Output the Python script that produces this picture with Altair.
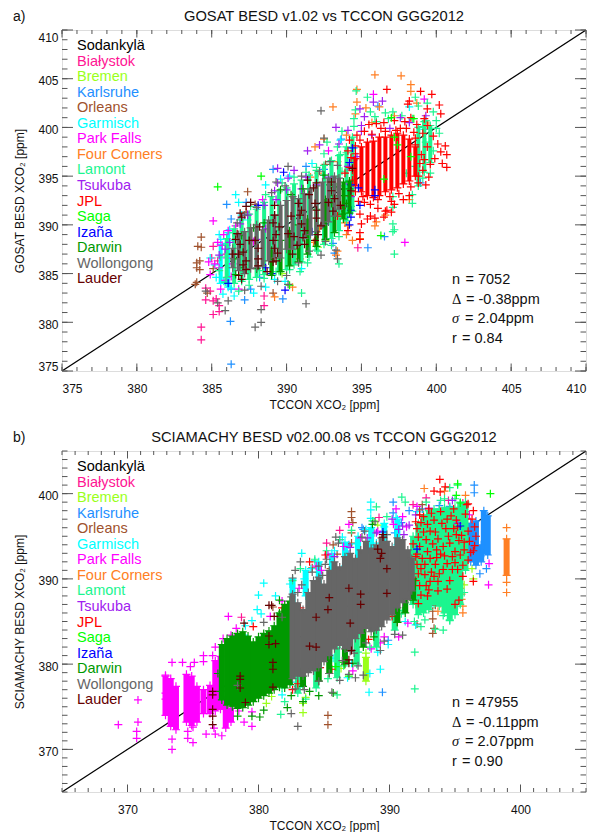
import altair as alt
import pandas as pd

FONT = "Liberation Sans"
SITES = ["Sodankylä","Białystok","Bremen","Karlsruhe","Orleans","Garmisch","Park Falls","Four Corners",
         "Lamont","Tsukuba","JPL","Saga","Izaña","Darwin","Wollongong","Lauder"]
COLORS = ["#000000","#FF1493","#9AFF1A","#1E90FF","#A0522D","#00FFFF","#FF00FF","#FF7F24",
          "#1CF58F","#A020F0","#FF0000","#00FF00","#0000FF","#009900","#666666","#660000"]

# ---------- panel a: crosses (TCCON, satellite) ----------
A_BIAL = [(384.3,378.2),(384.3,379.5),(385.1,380.8),(385.5,381.1),(385.5,381.7),(384.6,383.5),(384.6,382.3),(385.1,382.2),(385,386.6),(385.1,387.8),(388.5,382.7),(388.5,381.7),(394.76,387.65),(384.9,383.2),(385.3,382.4),(385.9,387),(385.4,386.3)]
A_BREM = [(392.1,387.7),(389.7,385),(392.6,388.4)]
A_KARL = [(386.3,375.7),(386.25,380.1),(386,392.1),(387.3,392.3),(386.3,390.6),(389.1,395.7),(389.75,382.4),(395.43,387.65),(396.54,388.8),(398.95,394.3),(393.65,398.8),(387.6,383.4),(387.2,382.3),(393.2,387.1),(386.3,383.4),(392.5,395.7),(391.3,396),(388.2,384.6),(393.1,388.1),(396.1,402.2)]
A_ORLE = [(384.3,388.75),(384.07,387.8),(384.3,387.7),(384.2,386.3),(384,386.1),(384,385.6),(384.2,385.4),(384,384.1),(383.9,383.9),(387.4,393.4),(384.7,383),(389.1,383),(387.9,392.1),(387.3,391.3),(385.1,385.5),(392.6,396.2)]
A_GARM = [(386.6,393.1),(386.8,392.3),(385.5,389),(386.2,389.5),(385.75,382.9),(386.3,383.5),(385.2,385.9),(385.6,388.5),(386.5,388.4),(387.8,383),(388.6,383.6),(389.2,384.4),(389.6,394.7),(387,391),(387.4,390.5),(385.8,384.2),(386.5,382.7),(393.6,398.7),(394.5,397.9),(391.7,396.3),(390.2,395),(388.6,394.1),(386,388.1),(384.9,386.6),(385.3,384.6),(389.9,384.2),(391,385.5),(398.2,402.1),(399.2,399.8)]
A_GARM_CORE = [(385.6,384,388),(386.1,383.6,389.2)]
A_PARK = [(385.1,390.4),(384.8,386.2),(385.2,386),(385.5,385.6),(385.4,388.2),(385.8,389),(385.7,387.9),(386,386.6),(386.3,384.7),(385.9,384.3),(385.6,383.4),(384.9,384.9),(386.1,389.4),(386.6,389.9),(387,390.7),(387.4,391.1),(397.9,388.2),(387.8,388.3),(388.4,392.6),(395.8,403.4),(399.2,402.9),(392.8,397.6),(386.4,386),(386.8,383.4)]
A_FOUR = [(395.9,405.4),(397.65,405.3),(394.7,403.9),(398.3,404.4),(398.3,403.7),(393.1,402.1),(394.7,402.6),(395.3,402),(396.2,402.1),(394.6,401.4),(397.2,401.2),(392.5,398.8),(391.9,398),(394,399.2),(395.7,400.5),(393.4,396.5),(392.1,395.3),(391.6,394.9),(394.1,389.9),(394,389),(394.9,388.6),(394.4,388.4),(393.4,387.3),(393.3,386.9),(393.9,390.2),(396,390.3),(395.9,389.9),(396.6,391),(398.2,392.6),(389.2,382.6),(390.4,383.6),(392.2,389.6),(391.8,388.2),(390.9,386.5),(399.5,400.2),(398.7,402.5)]
A_LAMO = [(394.65,403.75),(395.4,403.1),(398.6,403.1),(399.4,402.5),(398.8,402.2),(394.6,401.8),(395.6,401.6),(396.6,401.5),(397.1,401.6),(394.5,400.9),(395.9,401.1),(399.8,401.6),(400,400.7),(399.1,400.1),(392.7,398.5),(393.4,398),(393.6,397.2),(392.5,397.3),(394,397.4),(392.9,396.5),(392,395.9),(391.3,395.4),(390.5,394.9),(389.7,394.3),(388.6,393.1),(387.6,391.9),(386.9,390.5),(386.4,389.2),(386,387.9),(385.6,386.7),(385.5,385.3),(385.9,384.1),(386.8,383.2),(387.5,383.8),(388.5,384.5),(389.3,385.2),(390.2,385.4),(391.4,386.1),(392.1,387.3),(393,387.9),(393.5,388.8),(392.9,390.4),(393.6,391.1),(394.3,391.9),(397.1,392.9),(398.4,393.1),(398.4,392.2),(397.1,391.8),(397.1,390.1),(397.2,389.5),(397.1,389.3),(397.2,387),(393.5,386),(391,383),(390.9,385.2),(388.2,385.3),(400.2,399.4),(399.3,398.5),(399.8,397.6),(399.6,395.3),(400,399.9),(398.6,396),(399.1,394.8),(398,395.3),(393.9,394),(393.7,395.5),(394.5,400.1),(393.7,399.6),(396,400.6),(396.8,400.9),(397.7,401.2),(398.4,400.9),(399.3,400.7)]
A_LAMO_CORE = [(386,384.6,388.6),(386.5,384,389.6),(387,384.2,390.6),(387.5,384.4,391.1),(388,384.6,391.6),(388.5,384.9,392.3),(389,385,392.9),(389.5,385.2,393.4),(390,385.4,393.8),(390.5,385.9,394.2),(391,386.2,394.6),(391.5,386.7,395.1),(392,387.4,395.6),(392.5,388,396.1),(393,388.6,396.6),(393.5,389.4,397.1),(394,390.4,398),(394.4,391.4,399),(398.8,394,400),(399.2,395.4,400.6),(399.6,396.4,400.2)]
A_TSUK = [(395.8,402.6),(396.4,402.7),(394.9,401.9),(395.2,401.1),(395,400.2),(394.1,399.7),(395,399.6),(393.3,400),(391.4,397.6),(392.2,398.2),(397.6,401),(396.9,399.9),(395.7,399.2),(393.5,398.3),(394.7,397),(394.1,396),(389.4,395.8),(390.5,395.6),(390.1,394.8),(389.4,394.3),(389.2,393.5),(390,393.6),(389.3,392.6),(388.5,392),(387.4,391),(386.9,390.1),(386.2,388.2),(385.9,387.5),(385.5,386.9),(391,393.7),(392,394.1),(392.8,394.9),(394.2,394.2),(394.3,392.9),(393.9,391.9),(388.6,389.6),(388,388.5),(399.3,401.2),(398.2,400.5),(391.3,394.9)]
A_JPL = [(396.7,403.9),(398.95,403.7),(399.7,403.4),(398.2,402.7),(398.1,402.4),(400.2,402.3),(399.4,401.9),(400.3,401.4),(399.2,400.9),(398.3,401),(397.9,400.6),(397.2,400.7),(396.5,400.5),(396,400.4),(395.5,400.3),(398.7,400.3),(399.4,400.2),(398,399.9),(397.3,399.7),(396.3,399.9),(395.2,399.6),(394.7,399.2),(394.2,398.7),(399.1,399.4),(399.8,399.1),(398.6,398.9),(400.1,398.3),(400.6,398.1),(399.4,398),(394.6,398.1),(394.1,397.6),(394.3,396.9),(400.3,397.5),(400.7,397.2),(399.9,396.8),(399.2,396.7),(399.6,396.2),(400.4,396.3),(400.7,395.9),(399.1,395.6),(398.8,395),(399.5,394.9),(394.2,395.9),(393.9,395.3),(394.4,394.6),(398.8,394.3),(399.3,394.1),(398.3,393.9),(398.2,393),(397.8,392.6),(394.6,393.4),(394.2,393),(395.1,392.9),(395.6,392.1),(396.1,391.7),(396.7,391.5),(397.2,392.1),(397,391.3),(396.5,390.8),(395.6,390.9),(394.9,391.1),(394.1,389.4),(394.9,389.2),(394.9,388.5),(395,390.1),(395.4,390.6),(395.9,390.7),(396.6,391.4),(397,392.4),(393.4,390.9),(393.7,391.7),(395.2,392.3),(396.1,392.6),(396.9,392.9),(397.5,393.2),(394.8,392.4),(395.7,399.3),(396.6,399.6),(397.6,399.9),(398.5,399.5),(394.9,398.7),(398.6,398.2),(399,397.2),(398.9,396.3),(394.4,395.6),(394.6,397.3)]
A_JPL_CORE = [(394.6,394,396.8),(395,393.4,398),(395.4,393,398.5),(395.8,392.8,398.6),(396.2,393,399),(396.6,393.4,399),(397,393.6,399.2),(397.4,393.8,399.4),(397.8,394.2,399.2),(398.2,394.5,398.8),(398.6,395,398)]
A_SAGA = [(398.3,397),(388.3,395),(385.4,393.9),(390.2,383.8),(397.2,399),(397.4,398.2),(396.5,394.7),(396.3,388.9),(398.5,400.9),(397,401)]
A_IZAN = [(388.1,392),(389.8,395.4),(394.4,397.9),(394.2,396.4),(394.3,394.1),(394.8,393.8),(395.9,393.6),(395.9,393),(394.9,392),(394.3,391.5),(394.3,390.8),(394.2,390),(389.9,383.3),(386.1,384),(388.6,385.6),(392.5,390.1),(391.7,389.3),(389,385)]
A_DARW = [(393.8,393),(394,392.2),(393.7,391.1),(393,392.2),(389.6,393.6),(390.3,393.1),(391.1,393.7),(392.5,395.1),(392.9,394.1),(388,385.5),(387.1,385.6),(386.6,384.9),(386.5,386.5),(387,388.9),(387.8,389.7),(388.5,390.2),(393.3,393.9),(394.2,393.7)]
A_DARW_CORE = [(389,384.8,387.4),(389.6,385.2,388.4),(390.2,385.8,389.4),(390.8,386.2,390),(391.4,387,390.6),(392,387.8,391.6),(392.6,388.5,392.6),(393.2,389.2,393),(393.8,390.6,394.4),(394.2,391.2,394.5)]
A_WOLL = [(392.3,401.7),(388.3,380),(387.9,379.5),(384.6,383.2),(391.3,381.9),(388.3,381.3),(387.2,383.3),(388.3,383.7),(390.1,383.9),(390,384.8),(389.4,384.2),(390.1,396),(392.5,398.9),(393.4,396.1),(392.9,396.5),(392.3,386.9),(393.4,386.5),(393.3,387.4),(386.1,382.2),(385.9,381.2),(385.4,382),(389.3,394.4),(386.7,390.2),(388,391.8),(387.2,391),(389,393.3),(389.9,394),(391,395),(392.2,395.5),(392.6,388.3),(391.5,387.3),(390.8,386.1)]
A_WOLL_CORE = [(386.4,385.6,387.6),(386.8,385.3,389),(387.2,385,389.3),(387.6,385.5,389.7),(388,385.6,390),(388.4,385.8,389.5),(388.8,386.3,390.5),(389.2,386.6,391),(389.6,386.6,392),(390,387.5,392.5),(390.4,387.5,392.9),(390.8,388,392.7),(391.2,388.6,393.2),(391.6,389,393.7),(392,389.3,394),(392.4,390,394.4),(392.8,390.3,394.8),(393.2,390.9,395),(393.5,391.6,394.8)]
A_LAUD = [(387,390.8),(387.3,391.9),(386.9,391.2),(386.7,389.1),(386.6,388.5),(386.9,388),(387.1,387.2),(386.8,387),(387.3,386.3),(387.5,388.4),(387.9,388.4),(388.1,387.6),(387.1,385.9),(386.8,384.8),(387,384.4),(387.3,385.4),(388.1,386.5),(388.1,385.8),(389.2,391),(389.1,390.2),(389.5,389.8),(389.3,389),(389.1,388.4),(389.2,387.6),(389.4,387.1),(389.1,386.2),(389.3,386.3),(390.1,389.1),(390.5,388.8),(390.7,387.9),(390.4,387),(391,391.5),(390.8,392.2),(390.9,391),(391,390.1),(391.2,389.4),(391.1,388.7),(391.2,388),(391.8,393.8),(391.4,394.6),(392,394.3),(391.5,393.1),(391.9,392.2),(392,391.5),(392,390.7),(392.3,389.9),(392.1,389),(391.9,388.4),(393,394.4),(393,393.5),(393.2,392.7),(392.8,392.3),(393.1,391.4),(393.6,392),(394.4,395.8),(394.3,393.5),(389.2,392),(387.6,392.3),(386.4,387),(388.7,385.2),(390.3,390.9),(388.2,389.8)]

# ---------- panel b: crosses ----------
B_BIAL = [(389.2,397.2),(392.8,399.5),(391.8,398.7),(395.8,397.9),(396.2,396.5),(395.6,398.9),(395.9,397.1),(394.5,399.2),(395.3,398.2),(386.2,395.7),(385.2,394.2),(378.7,385.5)]
B_BREM = [(388.2,381.3),(383.4,374.3),(383.6,376.1),(383.4,375.4),(386.3,379.5),(384.5,379.9),(389.1,396.3),(396.3,391.2),(396.4,390),(395.7,389.3),(380.6,375.4),(381,376.2),(388.8,396.8)]
B_BREM_CORE = [(388.2,378,380.8)]
B_KARL = [(396.47,401),(396.47,400.1),(390.28,399),(390.28,397.75),(396.9,390.6),(389.46,376.7),(388,395.8),(386.9,392.9),(390.4,395.4),(393.8,398.6),(394.6,398.5),(395.3,397.9),(389.9,382.8),(388.9,384),(386.9,394),(387.9,396),(390.9,396.6),(391.5,398),(392.5,398.2),(395.2,388.7),(397.4,391.2)]
B_KARL_CORE = [(396.2,392,396.5),(396.6,391.6,396.8),(397,392,394),(397.2,393,398),(397.5,392.8,397.4)]
B_ORLE = [(387.1,397.9),(387.1,397.2),(387.1,395.4),(387.1,394.2),(392.5,398.7),(392.3,398.1),(385.3,374),(385.3,372.9),(387.2,396.6),(393.3,386.2),(393.3,385.3),(393.4,384.2),(393.3,383.6),(392.1,384.7),(385.5,391.2),(388.8,395.4),(393.5,386.9),(381.1,386.7),(384.1,391.3),(385.7,394),(386,392.9)]
B_GARM = [(388.57,399),(388.57,398.1),(388.57,397.1),(380.4,389.5),(380,388.1),(388.44,376.7),(389.3,379.4),(379.9,386.4),(381.3,388),(382.4,389.4),(383.5,390),(384,391.2),(384.3,392.1),(383.3,393),(385.8,393.3),(386.4,394.9),(387.4,394.1),(388.2,395.8),(389.6,396.1),(390.5,397.2),(392.1,397.9),(389,394.2),(379,384.5),(378.9,383.4),(379.5,385.1),(380.2,385.9),(384.5,379.4),(386.8,378.4),(388.5,378.9),(389.1,381.4),(389.9,382.3),(391.2,385),(392,384.6),(393,386.8),(393.6,388.8),(387.1,380.1),(385.7,380.7),(383.3,377.7),(381.8,376.4),(382.5,377.9)]
B_GARM_CORE = [(382.6,387,390),(383.6,388,391),(384.6,389,392),(385.6,390,393),(386.6,391.5,394.3),(387.6,392,395),(388.6,393,396),(389.6,393.5,396.5),(390.6,394,397)]
B_PARK = [(369.3,372.9),(370.8,373.2),(370.7,372.1),(370.7,371.3),(370.8,375.8),(373.4,370),(374.6,371.3),(375,370.8),(376.7,371.8),(379.5,372.7),(372.9,378.7),(373.4,380.2),(374.2,380.2),(375.8,381),(375.8,380.3),(375.1,380.2),(374.8,379.7),(372.9,376.6),(372.9,375.9),(373.4,371.2),(374.6,372.1),(375,372.6),(376,371.8),(376.6,372.5),(377.2,371.6),(377.7,385.6),(378.3,384.2),(377.9,383.4),(377.3,383),(376.7,382),(376.5,381),(378.2,375.6),(378.5,374.5),(378.9,373.2),(379.5,374.4),(397.6,391.8),(397.56,389.3),(386.9,396.4),(395.7,396.2),(392.9,397.4),(390.6,393.4),(389.6,383.2),(389.3,382.5),(385.3,392.9),(384.4,391.5),(386.2,394.6),(386.5,393.8),(390.5,398.2),(391,397.3),(392.1,398.5),(396.1,397.5),(381.8,387.4),(380.9,385.6),(383.1,388.9),(384.8,391),(387.8,394.8),(389.1,395.6),(390.3,396.4),(391.3,396.1),(391.4,384.8),(390.7,383.2),(388.6,381.8),(387.2,379.2)]
B_PARK_CORE = [(372.9,374,378.6),(373.3,372.7,378.3),(373.7,372.3,377.4),(374.5,373.2,378.8),(374.9,372.8,378.6),(375.3,373.2,377.4),(375.8,374.2,377),(376.3,374.2,377.5),(376.7,374.5,380.4),(377.1,374.7,380.9),(377.5,372.5,376.2),(377.9,373.2,374.8)]
B_FOUR = [(392.65,400.6),(398.94,396),(398.94,388.4),(398.94,389.6),(395.6,386),(395.6,386.8),(395.5,387.6),(395.5,388.2),(395.4,388.9),(395.4,389.4),(393.6,387.7),(393.7,386.2),(393.9,387.1),(392,387),(391.6,387.7),(394.2,400.3),(395.8,399.8)]
B_FOUR_CORE = [(398.94,390.4,394.7)]
B_LAMO = [(389,398.45),(390.94,399.6),(391.93,381.4),(391.93,377.1),(395.2,401),(394.6,400.7),(394.2,399.4),(381.7,374.1),(388.9,384.8),(390.1,385.8),(391,386.3),(391.9,385),(392.4,384.4),(393.5,384.1),(394.1,385.7),(394.5,386.3),(394.6,385.1),(394.1,384),(391.2,387.2),(390.9,385.9),(392.7,385.2),(395.2,386.8),(395.7,388.4),(391.2,399),(392.8,399),(393.9,399.2),(395,399.4),(389.8,397.3),(388.7,396.8),(387.1,395.7),(386.2,394.6),(385.2,393.3),(384.3,392.3),(383.2,391.2),(382.6,389.8),(379.8,380),(380.6,380.8),(382,375.6),(381.8,377.2),(383,377.4),(383.6,375.9),(385.3,378.3),(386.5,379.8),(387.6,381.4),(388.5,382),(386,376.4)]
B_LAMO_CORE = [(383,376.6,379),(384.4,377.2,380),(386,378.4,382),(387.5,380,383.5),(389,382,385),(390.4,384,386.5),(391.8,387,395),(392.2,385.8,396.5),(392.6,386,397.5),(393,386.4,398),(393.4,387,398.2),(393.8,386.8,398.2),(394.2,386,398.4),(394.6,385.2,398.4),(395,385.8,398.4),(395.4,387,399),(395.8,391,399)]
B_TSUK = [(390.2,397),(391,396.2),(391.1,395.2),(391.5,396.3),(390.7,395.8),(392,397.5),(388.3,394.8),(389,395.4),(394.8,399.2),(393,398.3),(395.2,396.5),(387,393.7),(385.8,392.6)]
B_JPL = [(393.84,401.66),(393.4,400.3),(393.87,400.2),(394.25,400.8),(396.4,389.7),(392.3,397.5),(392.4,396.6),(392.1,395.9),(392.9,396.4),(393.1,395.6),(392.2,394.9),(392.8,394.6),(392.3,393.8),(392.1,392.9),(392.9,393.2),(392.5,392.4),(392.4,391.2),(392.7,390.5),(393.2,390.8),(393.1,389.7),(393,388.7),(392.4,388.1),(392.3,389.2),(393.5,391.7),(393.9,392.9),(394.4,391.8),(394.1,393.8),(394.6,394.2),(393.7,394.7),(394.3,395.9),(393.4,396.9),(394.7,397.4),(395.1,396.9),(394.9,395.9),(394.8,392.6),(395,393.2),(395.4,392.8),(395.3,394.5),(395.5,395.1),(396,395.6),(396.5,396.1),(396.6,395),(396.5,393.9),(396.4,393.3),(395.8,397.6),(395.9,398.7),(396.4,398),(396,398.8),(395.2,391.1),(395.6,390.3),(394.6,389.8),(394.4,388.8),(393.7,389.7),(395.3,387.5),(395,387),(392.2,387.1),(392,392.6),(391.8,394.1),(393,398.2),(383,377.7),(384.7,379.6),(385.6,379.4),(382.6,377),(387.8,385.4),(388.4,382.9),(389.4,385.3),(390.2,385.6),(390.6,384.9),(389,386.1),(379.6,384.4),(381.8,386.6),(383.2,386.6),(383.9,392),(385.1,392.8),(393.6,393.4),(392.6,395.5),(393.3,394.1),(392.2,390.6),(393.8,390.6),(395.7,393.4),(396.1,394.4),(395.2,396.1),(392,396.7),(392.6,397.3),(393.5,395.5),(394,396.5),(394.5,395),(393.1,392.4),(392.7,391.7),(392.1,391.7),(393.6,392.5),(394.2,392.7),(394.8,391.1),(395,391.9),(394.1,391.1),(393.4,390.3),(392.8,389.2),(392,389.8),(393.7,388.6),(395.6,391.6),(396,392.2),(396.2,393.1),(395.7,394.3),(395.1,395.2),(394.4,397),(393.9,397.9),(393.2,397.7),(392.9,388),(391.6,388.6),(394.9,398.2),(396.3,397)]
B_SAGA = [(397.7,400),(395.2,401.15),(385.9,379.7),(386.5,380.2),(395.4,398.9),(395.1,399.8),(386.9,378.6),(388,389.7)]
B_IZAN = [(389.9,391.7),(395.4,396.2),(392.1,393.5),(388.9,393.2),(386.1,385.9),(391,390.2),(389.5,395.5)]
B_DARW = [(381.6,387.5),(381.8,386.2),(376.9,378.9),(377.1,376.8),(378.4,373.9),(379.5,373.9),(380.1,373.8),(380.4,374.6),(382.2,374.9),(382.5,376.3),(383.4,375.6),(383.9,376.8),(384.6,376.3),(385.7,376.6),(387.2,380.1),(388.8,383.2),(391.3,388.1),(391,392),(385.9,387.9),(386.2,383.9),(389.9,390.1),(388.9,390.9),(384,380.9),(388.7,396.4),(387.9,385.5)]
B_DARW_CORE = [(377.2,375.8,382.3),(377.6,375.2,383),(378,375,383.3),(378.4,374.8,383.6),(378.8,374.9,383.8),(379.2,375.2,383.3),(379.6,375.6,382.6),(380,376,383.2),(380.4,376.3,383.6),(380.8,376.6,383.9),(381.2,377,384.5),(381.6,377.3,386),(382,377.2,387),(382.4,377.6,387.4),(383.4,377.4,379.5),(384.6,378,381),(385.4,378.9,382),(386.6,380,383),(388,382,385),(388.8,384,386),(390.6,384.9,387.5),(391.2,386,388),(391.8,387.5,390)]
B_WOLL = [(385.2,392.3),(384.6,391.5),(384.9,390.4),(384.1,390.8),(383.2,392),(382.8,391),(382.6,390.1),(383.3,389.3),(383,388.4),(382.5,387.9),(381.8,385.5),(380.4,384.9),(378.4,377.5),(382.5,374.2),(383,372.7),(385.6,376.7),(386.2,378.1),(386.9,378.8),(387.4,378.4),(388,378.7),(387.6,379.8),(389.3,381.6),(389.6,382.7),(390.4,383.5),(391,383.4),(387.9,394.9),(386.1,394.2),(385.9,394.9),(385.1,391.7),(388.9,396.7),(389.8,395.2),(388.1,395.6),(383.5,377),(382.8,377.1),(384.6,378),(385.4,378.9),(386.4,380.4),(387.3,381.3),(388.2,382.5)]
B_WOLL_CORE = [(382.6,378.3,388.2),(383,378.6,387.2),(383.4,378.6,386.4),(383.8,379,388.4),(384.2,379.2,389.8),(384.6,379.6,390.2),(385,380.3,389.4),(385.4,381,391),(385.8,381.8,392),(386.2,382.2,391.4),(386.6,381.8,392.6),(387,381.5,393),(387.4,383,392.4),(387.8,383.6,393.4),(388.2,384.2,394.4),(388.6,383.8,393.6),(389,384,394),(389.4,384.4,394.8),(389.8,385.2,394.4),(390.2,385.8,393.8),(390.6,386.6,394.8),(391,387.2,394.6),(391.4,387.6,393.4),(391.7,388.6,392.4)]
B_LAUD = [(378.6,378.6),(378.6,378.2),(378.6,377.2),(381.1,380.2),(381.1,379.4),(380.8,383.3),(380.8,382.3),(381.3,382.4),(376.5,376.8),(376.5,376.4),(376.5,374.7),(376.5,373.9),(376.5,372.9),(378.9,384.8),(380.8,386.9),(385.3,386.4),(386.9,388.9),(387.8,387),(387,384.8),(384.4,385.5),(383.9,382.1),(384.4,382),(385.4,387.8),(389.5,395.2),(389.5,394.9),(389.1,393.5),(389.8,391.2),(389.3,392.4),(389.4,393),(387.1,381.6),(386.9,380.5),(386.9,380.1),(381.1,377.3),(379,375.5),(381,386.9),(381.2,385.6),(389.8,388.3),(387.8,388.2)]

A_SERIES = {"Białystok":A_BIAL,"Bremen":A_BREM,"Karlsruhe":A_KARL,"Orleans":A_ORLE,"Garmisch":A_GARM,"Park Falls":A_PARK,"Four Corners":A_FOUR,"Lamont":A_LAMO,"Tsukuba":A_TSUK,"JPL":A_JPL,"Saga":A_SAGA,"Izaña":A_IZAN,"Darwin":A_DARW,"Wollongong":A_WOLL,"Lauder":A_LAUD}
A_CORES = {"Garmisch":A_GARM_CORE,"Lamont":A_LAMO_CORE,"JPL":A_JPL_CORE,"Darwin":A_DARW_CORE,"Wollongong":A_WOLL_CORE}
B_SERIES = {"Białystok":B_BIAL,"Bremen":B_BREM,"Karlsruhe":B_KARL,"Orleans":B_ORLE,"Garmisch":B_GARM,"Park Falls":B_PARK,"Four Corners":B_FOUR,"Lamont":B_LAMO,"Tsukuba":B_TSUK,"JPL":B_JPL,"Saga":B_SAGA,"Izaña":B_IZAN,"Darwin":B_DARW,"Wollongong":B_WOLL,"Lauder":B_LAUD}
B_CORES = {"Bremen":B_BREM_CORE,"Karlsruhe":B_KARL_CORE,"Garmisch":B_GARM_CORE,"Park Falls":B_PARK_CORE,"Four Corners":B_FOUR_CORE,"Lamont":B_LAMO_CORE,"Darwin":B_DARW_CORE,"Wollongong":B_WOLL_CORE}

A_STATS = [("n","= 7052"),("Δ","= -0.38ppm"),("σ","= 2.04ppm"),("r","= 0.84")]
B_STATS = [("n","= 47955"),("Δ","= -0.11ppm"),("σ","= 2.07ppm"),("r","= 0.90")]

W, H = 524, 341
CROSS = "M-1,0L1,0M0,-1L0,1"
FRAME = "#555555"

def panel(lo, hi, major, series, cores, stats, tag, title, ytitle, flush, core_w, stat_x, stat_y):
    xs = alt.Scale(domain=[lo, hi], nice=False, zero=False)
    ys = alt.Scale(domain=[lo, hi], nice=False, zero=False)
    minor = [v for v in range(lo, hi + 1)]
    layers = []
    xax = alt.Axis(values=major, tickSize=0, domain=False, grid=False, format="d", labelFont=FONT, labelFontSize=12,
                   labelColor="#111", labelPadding=12, labelAngle=0, title="TCCON XCO₂ [ppm]", titleFont=FONT, titleFontSize=12,
                   titleFontWeight="normal", titleColor="#111", titlePadding=5)
    yax = alt.Axis(values=major, tickSize=0, domain=False, grid=False, format="d", labelFont=FONT, labelFontSize=12,
                   labelColor="#111", labelPadding=4, labelOffset=2, labelFlush=flush, title=ytitle, titleFont=FONT, titleFontSize=12,
                   titleFontWeight="normal", titleColor="#111", titlePadding=11)
    X = lambda f: alt.X(f, scale=xs, axis=xax)
    Y = lambda f: alt.Y(f, scale=ys, axis=yax)
    diag = pd.DataFrame({"x": [lo, hi], "y": [lo, hi]})
    layers.append(alt.Chart(diag).mark_line(color="black", strokeWidth=1.2, clip=True).encode(x=X("x:Q"), y=Y("y:Q")))
    # inward ticks on all four sides
    for vals, xl, yl in [(major, 7.5, 11), (minor, 4, 5.5)]:
        d = pd.DataFrame({"v": vals})
        c = alt.Chart(d).mark_rule(color=FRAME, strokeWidth=1)
        layers.append(c.encode(x=X("v:Q"), y=alt.value(H), y2=alt.value(H - xl)))
        layers.append(c.encode(x=X("v:Q"), y=alt.value(0), y2=alt.value(xl)))
        layers.append(c.encode(y=Y("v:Q"), x=alt.value(0), x2=alt.value(yl)))
        layers.append(c.encode(y=Y("v:Q"), x=alt.value(W), x2=alt.value(W - yl)))
    color = alt.Color("site:N", scale=alt.Scale(domain=SITES, range=COLORS), legend=None)
    for s in SITES:
        pts = list(series.get(s, []))
        if s in cores:
            d = pd.DataFrame(cores[s], columns=["x", "y", "y2"]).assign(site=s)
            layers.append(alt.Chart(d).mark_rule(strokeWidth=core_w).encode(x=X("x:Q"), y=Y("y:Q"), y2="y2:Q", color=color))
            # crosses at both ends of each dense column
            for x0, y0, y1 in cores[s]:
                pts += [(x0, y0), (x0, y1)]
        if pts:
            d = pd.DataFrame(pts, columns=["x", "y"]).assign(site=s)
            layers.append(alt.Chart(d).mark_point(shape=CROSS, filled=False, size=64, strokeWidth=1.2, opacity=1).encode(
                x=X("x:Q"), y=Y("y:Q"), color=color))
    # site list
    leg = pd.DataFrame({"site": SITES, "py": [16 + 15.55 * i for i in range(16)]})
    layers.append(alt.Chart(leg).mark_text(align="left", baseline="middle", font=FONT, fontSize=14.5).encode(
        x=alt.value(15), y=alt.Y("py:Q", scale=None), text="site:N", color=color))
    # statistics
    st = pd.DataFrame({"sym": [a for a, _ in stats], "txt": [b for _, b in stats],
                       "py": [stat_y + 19.6 * i for i in range(4)], "dx": [13.5, 14, 13, 10]})
    for i, row in st.iterrows():
        one = pd.DataFrame([row])
        sym_font = "Liberation Sans" if row.sym in ("n", "r") else "Liberation Serif"
        sty = "italic" if row.sym == "σ" else "normal"
        layers.append(alt.Chart(one).mark_text(align="left", baseline="middle", font=sym_font, fontStyle=sty, fontSize=14.5, color="#111").encode(
            x=alt.value(stat_x), y=alt.Y("py:Q", scale=None), text="sym:N"))
        layers.append(alt.Chart(one).mark_text(align="left", baseline="middle", font=FONT, fontSize=14.5, color="#111").encode(
            x=alt.value(stat_x + row.dx), y=alt.Y("py:Q", scale=None), text="txt:N"))
    layers.append(alt.Chart(pd.DataFrame({"t": [title]})).mark_text(font=FONT, fontSize=14.7, color="#111", baseline="middle").encode(
        x=alt.value(262), y=alt.value(-13), text="t:N"))
    layers.append(alt.Chart(pd.DataFrame({"t": [tag]})).mark_text(font=FONT, fontSize=14, color="#111", baseline="middle", align="left").encode(
        x=alt.value(-49), y=alt.value(-13), text="t:N"))
    return alt.layer(*layers).properties(width=W, height=H)

a = panel(375, 410, list(range(375, 411, 5)), A_SERIES, A_CORES, A_STATS, "a)", "GOSAT BESD v1.02 vs TCCON GGG2012",
          "GOSAT BESD XCO₂ [ppm]", True, 4, 390, 250)
b = panel(365, 405, list(range(370, 401, 10)), B_SERIES, B_CORES, B_STATS, "b)", "SCIAMACHY BESD v02.00.08 vs TCCON GGG2012",
          "SCIAMACHY BESD XCO₂ [ppm]", False, 6, 390, 252)

chart = alt.vconcat(a, b, spacing=80, bounds="flush").properties(
    padding={"left": 4, "top": 0, "right": 0, "bottom": 0}
).configure_view(stroke=FRAME, strokeWidth=1).configure(background="white")
chart.save("out.html", embed_options={"renderer": "svg", "actions": False})
